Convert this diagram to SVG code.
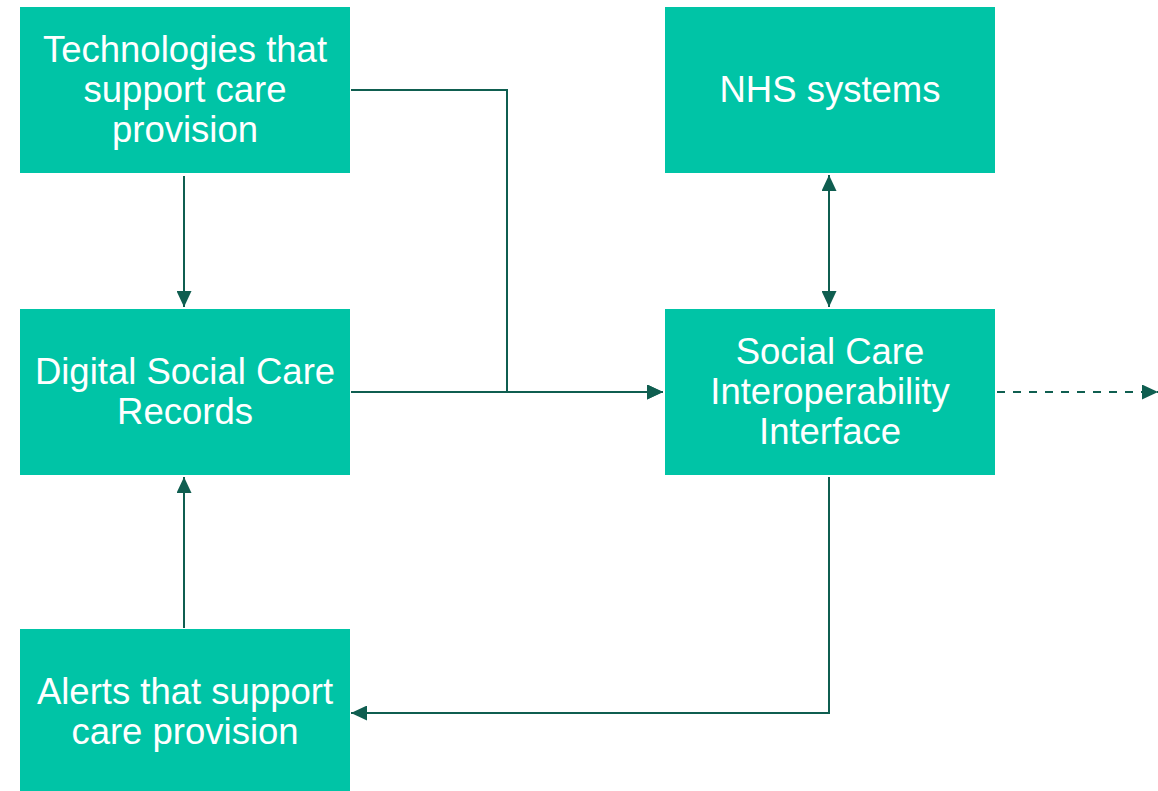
<svg xmlns="http://www.w3.org/2000/svg" width="1158" height="791" viewBox="0 0 1158 791">
<style>
.box{fill:#00C4A6}
.t{font-family:'Liberation Sans', sans-serif;font-size:36.5px;fill:#ffffff;text-anchor:middle}
.c{fill:none;stroke:#0F5E50;stroke-width:2}
.d{stroke-dasharray:8 8}
</style>
<defs>
<marker id="ah" viewBox="0 0 16 15" refX="16" refY="7.5" markerWidth="16" markerHeight="15" markerUnits="userSpaceOnUse" orient="auto-start-reverse">
<path d="M0,0 L16,7.5 L0,15 Z" fill="#0F5E50"/>
</marker>
</defs>
<rect width="1158" height="791" fill="#ffffff"/>
<g id="tech"><rect class="box" x="20" y="7" width="330" height="166"/>
<text class="t" x="185" y="62">Technologies that</text><text class="t" x="185" y="102">support care</text><text class="t" x="185" y="142">provision</text></g>
<g id="dscr"><rect class="box" x="20" y="309" width="330" height="166"/>
<text class="t" x="185" y="384">Digital Social Care</text><text class="t" x="185" y="424">Records</text></g>
<g id="alerts"><rect class="box" x="20" y="629" width="330" height="162"/>
<text class="t" x="185" y="704">Alerts that support</text><text class="t" x="185" y="744">care provision</text></g>
<g id="nhs"><rect class="box" x="665" y="7" width="330" height="166"/>
<text class="t" x="830" y="102">NHS systems</text></g>
<g id="scii"><rect class="box" x="665" y="309" width="330" height="166"/>
<text class="t" x="830" y="364">Social Care</text><text class="t" x="830" y="404">Interoperability</text><text class="t" x="830" y="444">Interface</text></g>
<g id="connectors">
<path class="c" d="M351,90 H507 V392 H663" marker-end="url(#ah)"/>
<path class="c" d="M351,392 H663" marker-end="url(#ah)"/>
<path class="c" d="M184,176 V307" marker-end="url(#ah)"/>
<path class="c" d="M184,628 V477" marker-end="url(#ah)"/>
<path class="c" d="M829,477 V713 H351" marker-end="url(#ah)"/>
<path class="c" d="M829,175 V307" marker-start="url(#ah)" marker-end="url(#ah)"/>
<path class="c d" d="M997,392 H1158" marker-end="url(#ah)"/>
</g>
</svg>
